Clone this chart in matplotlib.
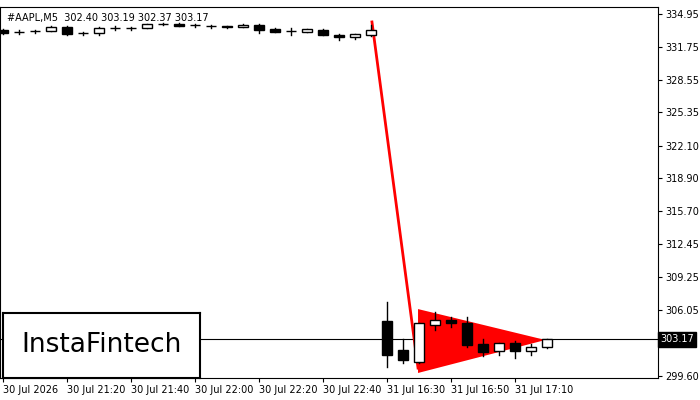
import matplotlib.pyplot as plt
from matplotlib.patches import Rectangle, Polygon

# OHLC for M5 candles (index 0..23 on 30 Jul, 24..34 on 31 Jul)
opens = [333.4, 333.15, 333.25, 333.3, 333.7, 333.05, 333.1, 333.55, 333.55, 333.6, 333.97, 334.0,
         333.85, 333.75, 333.7, 333.7, 333.9, 333.5, 333.25, 333.2, 333.4, 332.9, 332.7, 332.9,
         305.0, 302.1, 301.0, 304.6, 305.1, 304.8, 302.7, 302.0, 302.8, 302.05, 302.4]
highs = [333.5, 333.35, 333.4, 333.75, 333.75, 333.15, 333.65, 333.75, 333.7, 334.0, 334.1, 334.05,
         334.0, 333.9, 333.8, 333.95, 333.95, 333.55, 333.6, 333.5, 333.45, 332.95, 333.0, 333.9,
         306.83, 303.2, 304.8, 305.85, 305.4, 305.35, 303.2, 302.8, 303.0, 302.7, 303.17]
lows = [333.0, 333.0, 333.1, 333.3, 332.9, 332.9, 332.85, 333.4, 333.4, 333.55, 333.9, 333.75,
        333.7, 333.6, 333.6, 333.65, 333.1, 333.15, 332.85, 333.15, 332.85, 332.4, 332.55, 332.8,
        300.5, 300.9, 300.9, 304.1, 304.35, 302.4, 301.6, 301.7, 301.4, 301.7, 302.35]
closes = [333.1, 333.15, 333.25, 333.7, 333.0, 333.05, 333.6, 333.55, 333.55, 333.95, 333.97, 333.8,
          333.85, 333.75, 333.7, 333.9, 333.4, 333.2, 333.25, 333.45, 332.9, 332.7, 332.95, 333.4,
          301.7, 301.15, 304.8, 305.1, 304.75, 302.6, 301.9, 302.8, 302.0, 302.4, 303.17]

tick_idx = [0, 4, 8, 12, 16, 20, 24, 28, 32]
tick_lbl = ["30 Jul 2026", "30 Jul 21:20", "30 Jul 21:40", "30 Jul 22:00", "30 Jul 22:20",
            "30 Jul 22:40", "31 Jul 16:30", "31 Jul 16:50", "31 Jul 17:10"]
price_ticks = [334.95, 331.75, 328.55, 325.35, 322.10, 318.90, 315.70, 312.45, 309.25, 306.05, 302.85, 299.60]
last_price = 303.17

# pennant pattern
pole_x = [23.06, 25.94]
pole_y = [334.17, 300.38]
flag_x = [25.94, 25.94, 33.9]
flag_y = [306.14, 299.9, 303.12]

fig = plt.figure(figsize=(7, 4), dpi=100)
ax = fig.add_axes([0, 0.055, 0.94, 0.9275])
ax.set_xlim(-0.19, 40.94)
ax.set_ylim(299.41, 335.63)

ax.add_patch(Polygon(list(zip(flag_x, flag_y)), closed=True, color="red", lw=0, zorder=2))
ax.plot(pole_x, pole_y, color="red", lw=2, zorder=2)

w = 0.6
for i, (o, h, l, c) in enumerate(zip(opens, highs, lows, closes)):
    ax.plot([i, i], [l, h], color="black", lw=1, zorder=3)
    bot, top = min(o, c), max(o, c)
    hgt = max(top - bot, 0.04)
    fc = "white" if c > o else "black"
    ax.add_patch(Rectangle((i - w / 2, bot), w, hgt, facecolor=fc, edgecolor="black", lw=1, zorder=4))

ax.axhline(last_price, color="black", lw=0.8, zorder=1)

ax.yaxis.tick_right()
ax.set_yticks(price_ticks)
# the 302.85 label sits under the last-price box
ax.set_yticklabels(["" if abs(p - last_price) < 1 else f"{p:.2f}" for p in price_ticks], fontsize=7)
ax.set_xticks(tick_idx)
ax.set_xticklabels(tick_lbl, fontsize=7, ha="left")
ax.tick_params(length=3, pad=2)
ax.text(1.003, last_price, f"{last_price:.2f}", transform=ax.get_yaxis_transform(), fontsize=7,
        color="white", va="center", ha="left",
        bbox=dict(facecolor="black", edgecolor="black", pad=1.5))

ax.text(0.01, 0.985, "#AAPL,M5  302.40 303.19 302.37 303.17", transform=ax.transAxes,
        fontsize=7, va="top", ha="left")

logo = fig.add_axes([3 / 700, 22 / 400, 197 / 700, 65 / 400])
logo.set_xticks([])
logo.set_yticks([])
logo.text(0.5, 0.5, "InstaFintech", fontsize=19, ha="center", va="center", transform=logo.transAxes)
for s in logo.spines.values():
    s.set_linewidth(1.5)

fig.savefig("out.png")
